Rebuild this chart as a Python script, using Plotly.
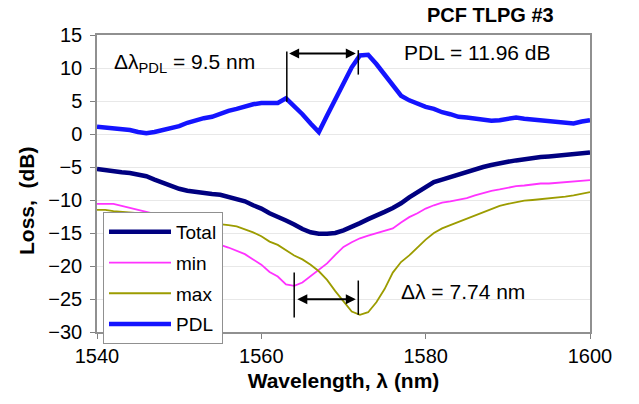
import plotly.graph_objects as go

wavelength = [1540, 1541, 1542, 1543, 1544, 1545, 1546, 1547, 1548, 1549,
              1550, 1551, 1552, 1553, 1554, 1555, 1556, 1557, 1558, 1559,
              1560, 1561, 1562, 1563, 1564, 1565, 1566, 1567, 1568, 1569,
              1570, 1571, 1572, 1573, 1574, 1575, 1576, 1577, 1578, 1579,
              1580, 1581, 1582, 1583, 1584, 1585, 1586, 1587, 1588, 1589,
              1590, 1591, 1592, 1593, 1594, 1595, 1596, 1597, 1598, 1599, 1600]

total_loss = [-5.3, -5.5, -5.7, -5.8, -5.9, -6.1, -6.4, -6.9, -7.4, -7.9,
              -8.3, -8.6, -8.8, -9.0, -9.1, -9.2, -9.5, -9.8, -10.2, -10.8,
              -11.3, -12.0, -12.5, -13.1, -13.7, -14.4, -14.9, -15.1, -15.1, -15.0,
              -14.6, -14.1, -13.5, -12.9, -12.4, -11.8, -11.2, -10.5, -9.6, -8.8,
              -7.9, -7.3, -6.9, -6.5, -6.1, -5.7, -5.3, -5.0, -4.7, -4.4,
              -4.2, -4.0, -3.8, -3.7, -3.5, -3.4, -3.3, -3.1, -3.0, -2.9, -2.8]

min_loss = [-10.6, -10.6, -10.6, -10.9, -11.2, -11.5, -11.7, -12.1, -12.6, -13.1,
            -13.7, -14.3, -14.9, -15.5, -16.1, -16.8, -17.2, -17.7, -18.2, -19.0,
            -19.8, -20.9, -21.6, -22.8, -23.0, -22.5, -21.5, -20.5, -19.6, -18.3,
            -17.1, -16.4, -15.8, -15.4, -15.0, -14.6, -14.3, -13.4, -12.6, -12.0,
            -11.3, -10.8, -10.4, -10.2, -10.0, -9.7, -9.3, -8.9, -8.6, -8.4,
            -8.1, -7.9, -7.8, -7.6, -7.5, -7.5, -7.4, -7.3, -7.2, -7.1, -7.0]

max_loss = [-11.5, -11.5, -11.7, -11.8, -11.8, -12.0, -12.2, -12.4, -12.6, -12.8,
            -13.0, -13.2, -13.3, -13.4, -13.5, -13.6, -13.8, -14.0, -14.4, -14.9,
            -15.5, -16.3, -16.8, -17.6, -18.4, -19.0, -19.8, -20.8, -22.1, -23.8,
            -25.3, -26.9, -27.4, -27.0, -25.5, -23.5, -21.0, -19.4, -18.4, -17.2,
            -16.0, -15.0, -14.3, -13.8, -13.3, -12.8, -12.3, -11.8, -11.3, -10.9,
            -10.6, -10.3, -10.1, -10.0, -9.9, -9.8, -9.6, -9.5, -9.3, -9.1, -8.8]

pdl = [1.1, 1.0, 0.9, 0.8, 0.6, 0.3, 0.1, 0.3, 0.6, 0.8,
       1.2, 1.7, 2.1, 2.4, 2.6, 3.1, 3.5, 3.8, 4.2, 4.5,
       4.7, 4.65, 4.7, 5.4, 4.3, 3.0, 1.6, 0.3, 2.8, 5.3,
       7.6, 10.1, 11.9, 12.0, 10.6, 9.0, 7.4, 5.8, 5.1, 4.6,
       4.1, 3.8, 3.3, 3.0, 2.6, 2.5, 2.3, 2.1, 2.0, 2.1,
       2.3, 2.5, 2.3, 2.2, 2.1, 2.0, 1.9, 1.7, 1.6, 1.9, 2.1]

series_names = ["Total", "min", "max", "PDL"]
x_ticks = [1540, 1560, 1580, 1600]
y_ticks = [-30, -25, -20, -15, -10, -5, 0, 5, 10, 15]

FONT = "Arial, 'Liberation Sans', sans-serif"

# plot area in pixels: left 97, right 590, top 35, bottom 332
L, R, T, B = 97, 590, 35, 332


def px_to_paper(px, py):
    return (px - L) / (R - L), (B - py) / (B - T)


fig = go.Figure()
fig.add_trace(go.Scatter(x=wavelength, y=min_loss, name=series_names[1], mode="lines",
                         legendgroup="b", line=dict(color="#ff33ff", width=1.8), legendrank=2))
fig.add_trace(go.Scatter(x=wavelength, y=max_loss, name=series_names[2], mode="lines",
                         legendgroup="c", line=dict(color="#9c9c00", width=1.8), legendrank=3))
fig.add_trace(go.Scatter(x=wavelength, y=total_loss, name=series_names[0], mode="lines",
                         legendgroup="a", line=dict(color="#000080", width=4.5), legendrank=1))
fig.add_trace(go.Scatter(x=wavelength, y=pdl, name=series_names[3], mode="lines",
                         legendgroup="d", line=dict(color="#1414ff", width=4.5), legendrank=4))

# marker lines
shapes = []
for (x0, y0, y1) in [(1563.1, 4.9, 12.5), (1571.8, 9.0, 12.7),
                     (1564.0, -21.0, -27.8), (1571.8, -22.2, -27.4)]:
    shapes.append(dict(type="line", xref="x", yref="y", x0=x0, x1=x0, y0=y0, y1=y1,
                       line=dict(color="black", width=1.5)))

tx, ty = px_to_paper(490, 15)
ylx, yly = px_to_paper(26, 201)
annotations = [
    dict(x=1571.5, y=12.2, ax=1563.2, ay=12.2, xref="x", yref="y", axref="x", ayref="y",
         text="", showarrow=True, arrowhead=2, arrowside="end+start", arrowsize=1,
         arrowwidth=2, arrowcolor="black"),
    dict(x=1571.5, y=-25.05, ax=1564.2, ay=-25.05, xref="x", yref="y", axref="x", ayref="y",
         text="", showarrow=True, arrowhead=2, arrowside="end+start", arrowsize=1,
         arrowwidth=2, arrowcolor="black"),
    dict(x=tx, y=ty, xref="paper", yref="paper", xanchor="center", yanchor="middle",
         text="<b>PCF TLPG #3</b>", showarrow=False,
         font=dict(size=20, color="black", family=FONT)),
    dict(x=1541.8, y=10.8, xref="x", yref="y", xanchor="left", yanchor="middle",
         text="Δλ<sub>PDL</sub> = 9.5 nm", showarrow=False,
         font=dict(size=21, color="black", family=FONT)),
    dict(x=1577.1, y=12.3, xref="x", yref="y", xanchor="left", yanchor="middle",
         text="PDL = 11.96 dB", showarrow=False,
         font=dict(size=21, color="black", family=FONT)),
    dict(x=1576.8, y=-23.9, xref="x", yref="y", xanchor="left", yanchor="middle",
         text="Δλ = 7.74 nm", showarrow=False,
         font=dict(size=21, color="black", family=FONT)),
    dict(x=ylx, y=yly, xref="paper", yref="paper", xanchor="center", yanchor="middle",
         text="<b>Loss,  (dB)</b>", textangle=-90, showarrow=False,
         font=dict(size=21, color="black", family=FONT)),
]

lx, ly = px_to_paper(103, 212)
fig.update_layout(
    width=639, height=404,
    margin=dict(l=L, r=639 - R, t=T, b=404 - B),
    paper_bgcolor="white", plot_bgcolor="white",
    font=dict(family=FONT, size=18, color="black"),
    showlegend=True,
    legend=dict(x=lx, y=ly, xanchor="left", yanchor="top",
                bgcolor="white", bordercolor="#909090", borderwidth=1,
                font=dict(size=19, family=FONT), tracegroupgap=3,
                itemwidth=62),
    shapes=shapes,
    annotations=annotations,
)
fig.update_xaxes(range=[1540, 1600], tickvals=x_ticks, ticks="outside", ticklen=5,
                 tickcolor="#808080", showline=True, linecolor="#909090", linewidth=1.5,
                 mirror=True, showgrid=False, zeroline=False,
                 tickfont=dict(size=20, family=FONT),
                 title=dict(text="<b>Wavelength, λ (nm)</b>", font=dict(size=21, family=FONT),
                            standoff=8))
fig.update_yaxes(range=[-30, 15], tickvals=y_ticks, ticks="outside", ticklen=5,
                 tickcolor="#808080", showline=True, linecolor="#909090", linewidth=1.5,
                 mirror=True, showgrid=True, gridcolor="#e8e8e8", gridwidth=1, zeroline=False,
                 tickfont=dict(size=20, family=FONT), ticklabelstandoff=4)

fig.write_html("out.html", config={"displayModeBar": False},
               post_script="document.body.style.margin='0';")
